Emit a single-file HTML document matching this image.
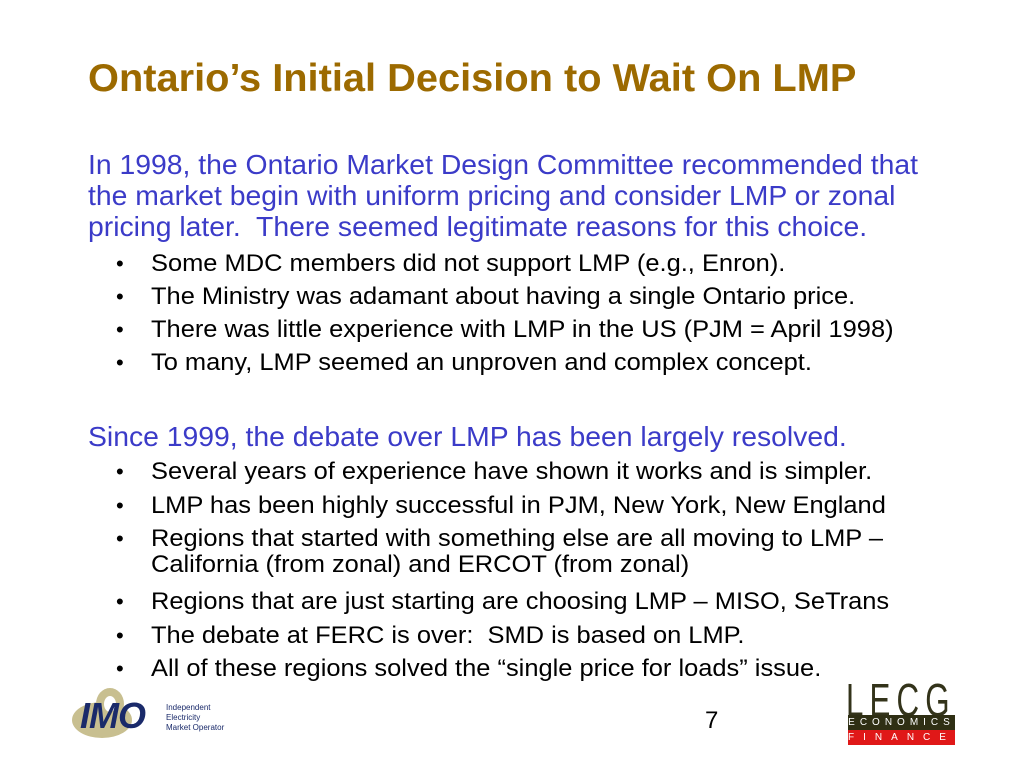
<!DOCTYPE html>
<html><head><meta charset="utf-8"><style>
body{margin:0;width:1024px;height:768px;background:#fff;position:relative;overflow:hidden;font-family:"Liberation Sans",sans-serif}
.a{position:absolute;white-space:nowrap}
.t{left:88px;top:57px;font-size:39px;font-weight:bold;color:#9c6a00;transform:scaleX(1.02);transform-origin:left}
.p{left:88px;font-size:28px;color:#3b3bc8;transform:scaleX(1.012);transform-origin:left}
.b{left:151px;font-size:24px;color:#000;transform:scaleX(1.06);transform-origin:left}
.d{left:116px;font-size:22px;color:#000}
</style></head><body>
<div class="a t">Ontario’s Initial Decision to Wait On LMP</div>
<div class="a p" style="top:149px">In 1998, the Ontario Market Design Committee recommended that</div>
<div class="a p" style="top:180px">the market begin with uniform pricing and consider LMP or zonal</div>
<div class="a p" style="top:211px">pricing later.&nbsp; There seemed legitimate reasons for this choice.</div>
<div>
<div class="a d" style="top:251px">•</div><div class="a b" style="top:250px">Some MDC members did not support LMP (e.g., Enron).</div>
<div class="a d" style="top:284px">•</div><div class="a b" style="top:283px">The Ministry was adamant about having a single Ontario price.</div>
<div class="a d" style="top:317px">•</div><div class="a b" style="top:316px">There was little experience with LMP in the US (PJM = April 1998)</div>
<div class="a d" style="top:350px">•</div><div class="a b" style="top:349px">To many, LMP seemed an unproven and complex concept.</div>
</div>
<div class="a p" style="top:421px">Since 1999, the debate over LMP has been largely resolved.</div>
<div>
<div class="a d" style="top:459px">•</div><div class="a b" style="top:458px">Several years of experience have shown it works and is simpler.</div>
<div class="a d" style="top:493px">•</div><div class="a b" style="top:492px">LMP has been highly successful in PJM, New York, New England</div>
<div class="a d" style="top:526px">•</div><div class="a b" style="top:525px">Regions that started with something else are all moving to LMP –</div>
<div class="a b" style="top:551px">California (from zonal) and ERCOT (from zonal)</div>
<div class="a d" style="top:589px">•</div><div class="a b" style="top:588px">Regions that are just starting are choosing LMP – MISO, SeTrans</div>
<div class="a d" style="top:623px">•</div><div class="a b" style="top:622px">The debate at FERC is over:&nbsp; SMD is based on LMP.</div>
<div class="a d" style="top:656px">•</div><div class="a b" style="top:655px">All of these regions solved the “single price for loads” issue.</div>
</div>
<div class="a" style="left:705px;top:707px;font-size:24px">7</div>
<div>
<svg class="a" style="left:68px;top:684px" width="100" height="58"><ellipse cx="34" cy="36" rx="30" ry="18" fill="#c8bf90"/><ellipse cx="42" cy="20" rx="14" ry="16" fill="#c8bf90"/><ellipse cx="42" cy="20" rx="6" ry="8" fill="#fff"/></svg>
<div class="a" style="left:80px;top:695px;font-size:36px;font-weight:bold;font-style:italic;color:#1a2a6a;letter-spacing:-1px">IMO</div>
<div class="a" style="left:166px;top:703px;font-size:8px;line-height:10px;color:#1a2a6a">Independent<br>Electricity<br>Market Operator</div>
</div>
<div>
<div class="a" style="left:846px;top:673px;font-size:46px;color:#33331a;letter-spacing:9px;transform:scaleX(0.68);transform-origin:left">LECG</div>
<div class="a" style="left:848px;top:715px;width:107px;height:15px;background:#2f2f14;color:#fff;font-size:10px;line-height:15px;text-align:center;letter-spacing:5px">ECONOMICS</div>
<div class="a" style="left:848px;top:730px;width:107px;height:15px;background:#e01818;color:#fff;font-size:10px;line-height:15px;text-align:center;letter-spacing:9px">FINANCE</div>
</div>
</body></html>
